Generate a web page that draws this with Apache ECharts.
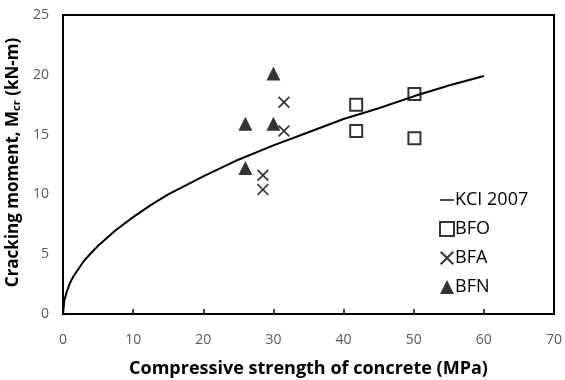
<!DOCTYPE html>
<html>
<head>
<meta charset="utf-8">
<script src="https://cdn.jsdelivr.net/npm/echarts@6/dist/echarts.min.js"></script>
<style>
  html, body { margin: 0; padding: 0; background: #fff; }
  #mychart { width: 565px; height: 380px; }
</style>
</head>
<body>
<div id="mychart"></div>
<script>
"use strict";
// KCI 2007 prediction curve
const kciStrength = [0, 0.2, 0.5, 1, 1.5, 2, 3, 4, 5, 7.5, 10, 12.5, 15, 20, 25, 30, 35, 40, 45, 50, 55, 60];
const kciMoment = [0, 1.15, 1.8, 2.6, 3.15, 3.6, 4.45, 5.1, 5.7, 7.0, 8.1, 9.1, 10.0, 11.5, 12.9, 14.1, 15.2, 16.3, 17.2, 18.2, 19.1, 19.9];

// test results
const bfoStrength = [41.8, 41.8, 50.1, 50.1];
const bfoMoment = [17.5, 15.3, 18.4, 14.7];
const bfaStrength = [31.5, 31.5, 28.5, 28.5];
const bfaMoment = [17.7, 15.3, 11.6, 10.4];
const bfnStrength = [30.0, 26.0, 30.0, 26.0];
const bfnMoment = [20.1, 15.9, 15.9, 12.2];

const xTicks = [0, 10, 20, 30, 40, 50, 60, 70];
const yTicks = [0, 5, 10, 15, 20, 25];

function pairs(xs, ys) {
    return xs.map((x, i) => [x, ys[i]]);
}

const crossPath = 'path://M0,1L1,0L5,4L9,0L10,1L6,5L10,9L9,10L5,6L1,10L0,9L4,5Z';
const linePath = 'path://M0,0H20V2H0Z';
const font = '"Open Sans", sans-serif';

const container = document.getElementById('mychart');
const myChart = echarts.init(container);
const option = {
    animation: false,
    grid: {
        left: 63,
        right: 11,
        top: 15,
        bottom: 66,
        outerBoundsMode: 'none',
        show: true,
        borderColor: '#000',
        borderWidth: 2
    },
    xAxis: {
        type: 'value',
        min: xTicks[0],
        max: xTicks[xTicks.length - 1],
        interval: 10,
        name: 'Compressive strength of concrete (MPa)',
        nameLocation: 'middle',
        nameGap: 46,
        nameTextStyle: { fontFamily: font, fontWeight: 'bold', fontSize: 18, color: '#000' },
        axisLine: { lineStyle: { color: '#000', width: 2 } },
        axisTick: { inside: true, length: 5, lineStyle: { color: '#000', width: 1.5 } },
        axisLabel: { fontFamily: font, fontSize: 14, color: '#595959', margin: 19 },
        splitLine: { show: false }
    },
    yAxis: {
        type: 'value',
        min: yTicks[0],
        max: yTicks[yTicks.length - 1],
        interval: 5,
        name: '{t|Cracking moment, M}{s|cr}{t| (kN-m)}',
        nameLocation: 'middle',
        nameGap: 41,
        nameTextStyle: {
            padding: [0, 0, 0, 4],
            rich: {
                t: { fontFamily: font, fontWeight: 'bold', fontSize: 17, color: '#000' },
                s: { fontFamily: font, fontWeight: 'bold', fontSize: 11, color: '#000', verticalAlign: 'bottom', padding: [6, 0, 0, 0] }
            }
        },
        axisLine: { show: true, lineStyle: { color: '#000', width: 2 } },
        axisTick: { show: false },
        axisLabel: { fontFamily: font, fontSize: 14, color: '#595959', margin: 14 },
        splitLine: { show: false }
    },
    legend: {
        orient: 'vertical',
        left: 434,
        top: 186,
        itemWidth: 14,
        itemHeight: 14,
        itemGap: 11,
        textStyle: { fontFamily: font, fontSize: 18, color: '#000', padding: [0, 0, 0, -4] },
        data: [
            { name: 'KCI 2007', icon: linePath, itemStyle: { color: '#000' } },
            { name: 'BFO', icon: 'rect' },
            { name: 'BFA', icon: crossPath },
            { name: 'BFN', icon: 'triangle' }
        ]
    },
    series: [
        {
            name: 'KCI 2007',
            type: 'line',
            smooth: false,
            showSymbol: false,
            lineStyle: { color: '#000', width: 2 },
            itemStyle: { color: '#000' },
            data: pairs(kciStrength, kciMoment)
        },
        {
            name: 'BFO',
            type: 'scatter',
            symbol: 'rect',
            symbolSize: 12,
            itemStyle: { color: '#fff', borderColor: '#000', borderWidth: 2 },
            data: pairs(bfoStrength, bfoMoment)
        },
        {
            name: 'BFA',
            type: 'scatter',
            symbol: crossPath,
            symbolSize: 12,
            itemStyle: { color: '#000' },
            data: pairs(bfaStrength, bfaMoment)
        },
        {
            name: 'BFN',
            type: 'scatter',
            symbol: 'triangle',
            symbolSize: 14,
            itemStyle: { color: '#000' },
            data: pairs(bfnStrength, bfnMoment)
        }
    ]
};
myChart.setOption(option);
</script>
</body>
</html>
